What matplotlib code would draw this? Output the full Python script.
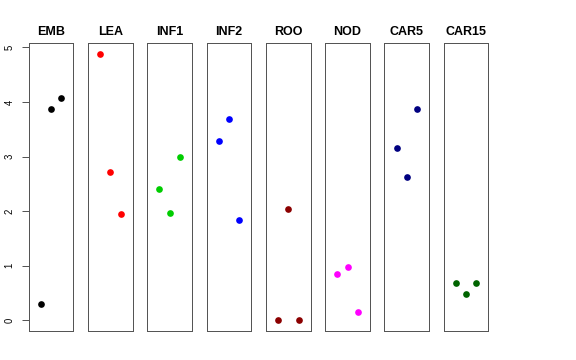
import matplotlib
matplotlib.use("Agg")
import matplotlib.pyplot as plt

tissues = ["EMB", "LEA", "INF1", "INF2", "ROO", "NOD", "CAR5", "CAR15"]
colors = ["#000000", "#FF0000", "#00CD00", "#0000FF", "#8B0000", "#FF00FF", "#000080", "#006400"]
rep_x = [1, 2, 3]
values = {
    "EMB":   [0.29, 3.88, 4.07],
    "LEA":   [4.88, 2.71, 1.95],
    "INF1":  [2.40, 1.96, 3.00],
    "INF2":  [3.28, 3.68, 1.84],
    "ROO":   [0.00, 2.04, 0.00],
    "NOD":   [0.84, 0.97, 0.15],
    "CAR5":  [3.15, 2.63, 3.88],
    "CAR15": [0.68, 0.48, 0.68],
}
yticks = [0, 1, 2, 3, 4, 5]

plt.rcParams["font.family"] = ["Liberation Sans", "DejaVu Sans"]
W, H = 576, 360
fig = plt.figure(figsize=(W / 72, H / 72), dpi=72)

left0, step, pw = 28.7, 59.3, 44.7
top, bottom = 43, 331
ymin, ymax = -0.196, 5.08
for i, (t, c) in enumerate(zip(tissues, colors)):
    l = left0 + step * i
    ax = fig.add_axes([l / W, 1 - bottom / H, pw / W, (bottom - top) / H])
    ax.scatter(rep_x, values[t], s=6.7 ** 2, color=c, linewidths=0, zorder=3)
    ax.set_xlim(-0.16, 4.16)
    ax.set_ylim(ymin, ymax)
    ax.set_xticks([])
    for sp in ax.spines.values():
        sp.set_color("#555555")
        sp.set_linewidth(1.0)
    ax.set_title(t, fontsize=12.5, fontweight="bold", pad=8)
    if i == 0:
        ax.set_yticks(yticks)
        ax.set_yticklabels([str(v) for v in yticks], rotation=90, va="center", fontsize=9.5)
        ax.tick_params(axis="y", length=7, width=1, color="#555555", pad=7)
    else:
        ax.set_yticks([])

fig.savefig("out.png", dpi=72)
